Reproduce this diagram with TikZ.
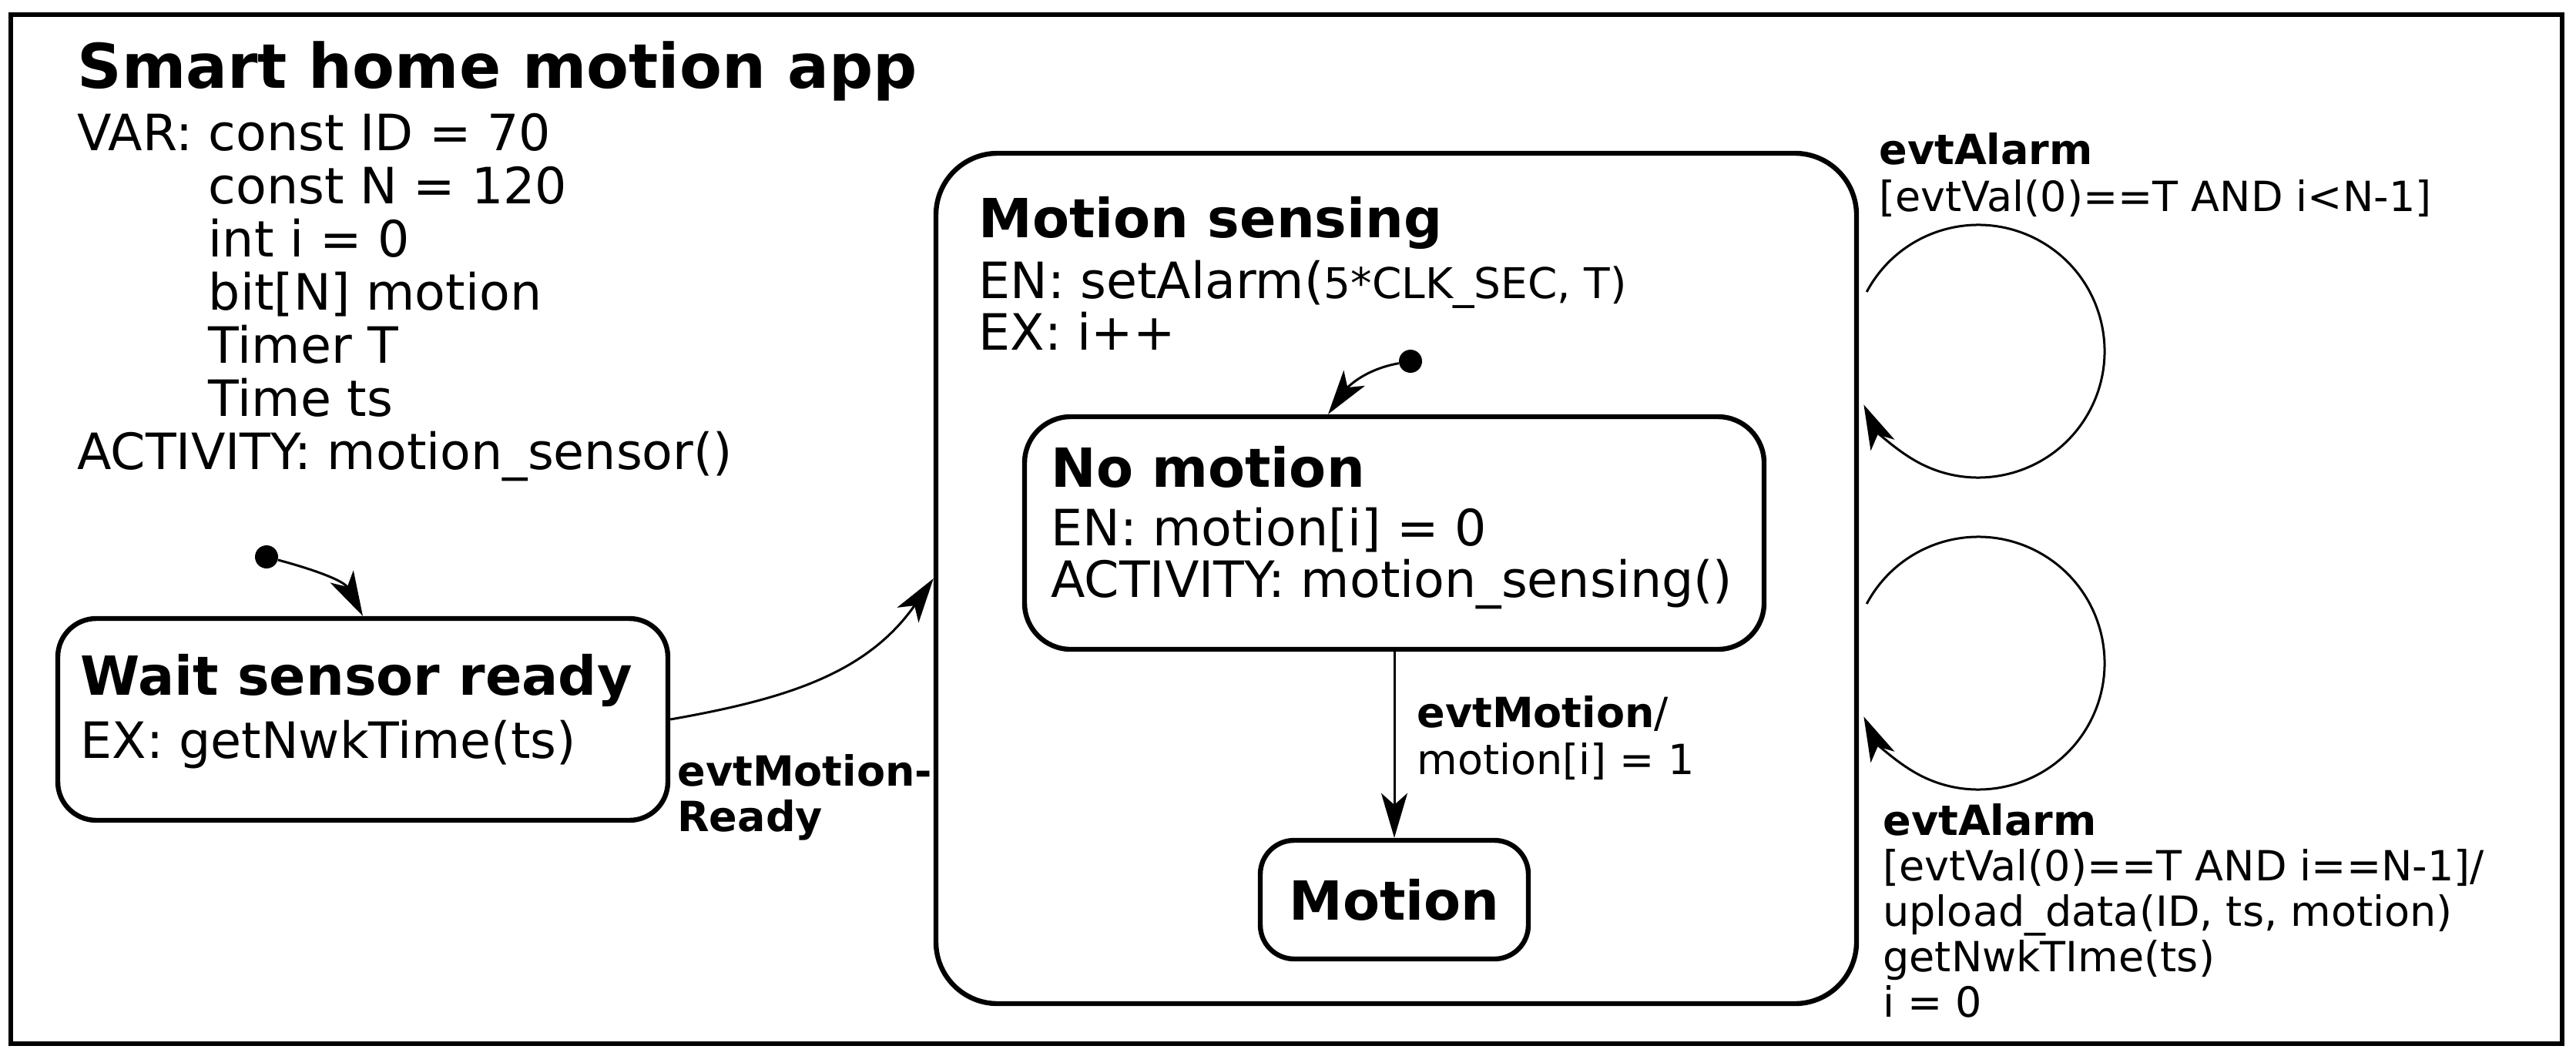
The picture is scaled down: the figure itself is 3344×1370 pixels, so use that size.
\documentclass[tikz,border=0pt]{standalone}
\usepackage{fontspec}
\setmainfont{DejaVu Sans}
\usetikzlibrary{arrows.meta}

\begin{document}
\begin{tikzpicture}[x=0.5pt,y=-0.5pt,
    statebox/.style={draw,line width=3.2pt,inner sep=0pt},
    initdot/.style={circle,fill,inner sep=0pt,minimum size=15pt},
    trans/.style={line width=1.5pt,-{Stealth[length=29pt,width=17pt,inset=7.5pt]}},
    headtxt/.style={anchor=base west,inner sep=0pt,font=\fontsize{35}{40}\selectfont\bfseries},
    bodytxt/.style={anchor=base west,inner sep=0pt,align=left,font=\fontsize{32.5}{33.5}\selectfont},
    lbltxt/.style={anchor=base west,inner sep=0pt,align=left,font=\fontsize{27}{30.5}\selectfont}]

  \useasboundingbox (0,0) rectangle (3344,1370);

  % outer frame
  \draw[line width=3pt] (14,19) rectangle (3326,1355);

  % app header (multi line nodes sit on their last baseline)
  \node[headtxt,font=\fontsize{40}{44}\selectfont\bfseries] (apptitle) at (100,114) {Smart home motion app};
  \node[bodytxt,font=\fontsize{32.5}{34.5}\selectfont] (appvars) at (100,609)
       {VAR: const ID = 70\\
        \phantom{VAR: }const N = 120\\
        \phantom{VAR: }int i = 0\\
        \phantom{VAR: }bit[N] motion\\
        \phantom{VAR: }Timer T\\
        \phantom{VAR: }Time ts\\
        ACTIVITY: motion\_sensor()};

  % wait state
  \node[statebox,rounded corners=25pt,minimum width=396pt,minimum height=131pt] (wait) at (471,934) {};
  \node[headtxt] (waittitle) at (104,902) {Wait sensor ready};
  \node[bodytxt] (waitbody) at (104,984) {EX: getNwkTime(ts)};
  \node[initdot] (waitinit) at (346,723) {};

  % motion sensing state
  \node[statebox,rounded corners=40pt,minimum width=597.5pt,minimum height=552pt] (msense) at (1812.5,751) {};
  \node[headtxt] (msensetitle) at (1270,308) {Motion sensing};
  \node[bodytxt] (msensebody) at (1270,454)
       {EN: setAlarm({\fontsize{27.5}{33.5}\selectfont 5*CLK\_SEC, T)}\\
        EX: i++};
  \node[initdot] (msenseinit) at (1831,469) {};

  % inner states
  \node[statebox,rounded corners=30pt,minimum width=480pt,minimum height=151pt] (nomotion) at (1810,692) {};
  \node[headtxt] (nomotiontitle) at (1364,632) {No motion};
  \node[bodytxt] (nomotionbody) at (1364,775)
       {EN: motion[i] = 0\\
        ACTIVITY: motion\_sensing()};

  \node[statebox,rounded corners=22pt,minimum width=174pt,minimum height=77pt,
        font=\fontsize{35}{40}\selectfont\bfseries] (motion) at (1810,1168) {Motion};

  % transitions
  \draw[trans] (waitinit) to[out=-15,in=118] (wait.north);
  \draw[trans] (msenseinit) to[out=190,in=54] ([xshift=-43pt]nomotion.north);
  \draw[trans] (wait.east) to[out=10,in=235] (msense.west);
  \draw[trans] (nomotion) -- (motion);

  % self loops
  \draw[trans] ([xshift=5pt,yshift=186pt]msense.east)
       arc[start angle=208,end angle=515,radius=164];
  \draw[trans] ([xshift=5pt,yshift=-16.5pt]msense.east)
       arc[start angle=208,end angle=515,radius=164];

  % labels
  \node[lbltxt,font=\fontsize{27}{29.5}\selectfont\bfseries] (readylbl) at (879,1079) {evtMotion-\\Ready};
  \node[lbltxt] (motionlbl) at (1839,1005) {\textbf{evtMotion}/\\motion[i] = 1};
  \node[lbltxt] (alarmlbl) at (2439,274) {\textbf{evtAlarm}\\{}[evtVal(0)==T AND i<N-1]};
  \node[lbltxt,font=\fontsize{27}{29.5}\selectfont] (uploadlbl) at (2444,1320)
       {\textbf{evtAlarm}\\
        {}[evtVal(0)==T AND i==N-1]/\\
        upload\_data(ID, ts, motion)\\
        getNwkTIme(ts)\\
        i = 0};
\end{tikzpicture}
\end{document}
